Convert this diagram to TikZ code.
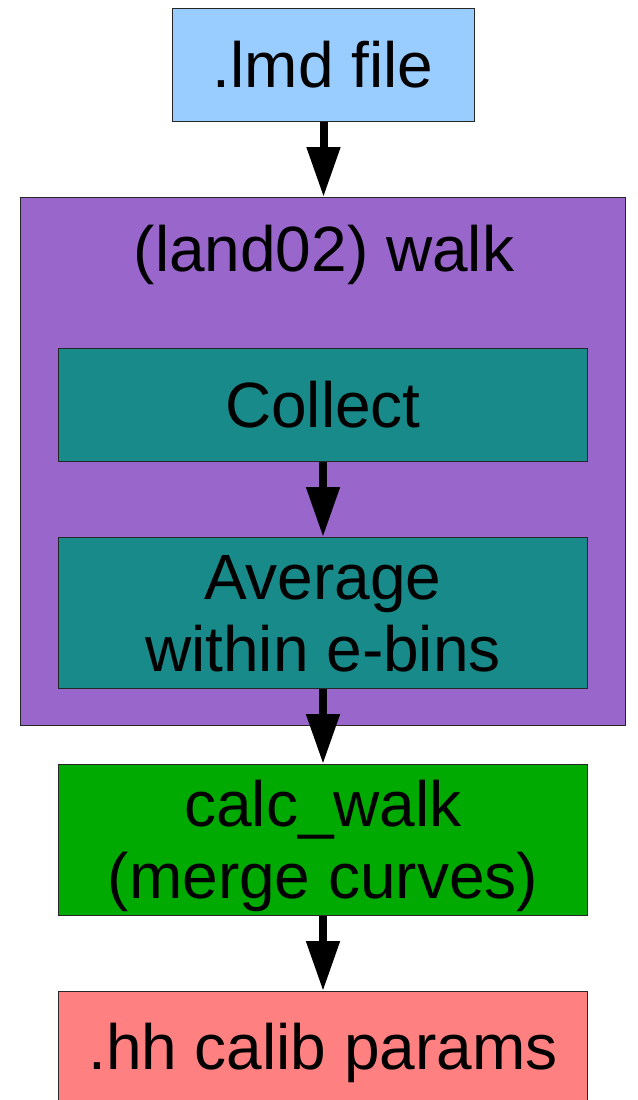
\documentclass[tikz,border=0pt]{standalone}
\usepackage{fontspec}
\setmainfont{Liberation Sans}
\usetikzlibrary{arrows.meta}
\definecolor{fileblue}{HTML}{99CCFF}
\definecolor{walkpurple}{HTML}{9966CC}
\definecolor{stepteal}{HTML}{198A8A}
\definecolor{calcgreen}{HTML}{00AA00}
\definecolor{outsalmon}{HTML}{FF8080}
\begin{document}
\begin{tikzpicture}[x=1pt,y=1pt,
  box/.style={draw=black!85, line width=1pt, inner sep=0pt, anchor=north west},
  txt/.style={anchor=base, inner sep=0pt, font=\fontsize{64}{68}\selectfont},
  flow/.style={line width=8pt, -{Triangle[width=32pt,length=50pt]}}]
\useasboundingbox (0,0) rectangle (637,-1100);
\clip (0,0) rectangle (637,-1100);

% boxes
\node[box, fill=fileblue, minimum width=302pt, minimum height=113pt] (lmd) at (172,-8) {};
\node[box, fill=walkpurple, minimum width=605pt, minimum height=528pt] (walk) at (20,-197) {};
\node[box, fill=stepteal, minimum width=529pt, minimum height=113pt] (collect) at (58,-348) {};
\node[box, fill=stepteal, minimum width=529pt, minimum height=151pt] (avg) at (58,-537) {};
\node[box, fill=calcgreen, minimum width=529pt, minimum height=151pt] (calc) at (58,-764) {};
\node[box, fill=outsalmon, minimum width=529pt, minimum height=160pt] (hh) at (58,-991) {};

% labels
\node[txt] (tlmd) at (323,-87) {.lmd file};
\node[txt] (twalk) at (324,-271) {(land02) walk};
\node[txt] (tcollect) at (323,-427) {Collect};
\node[txt] (tavg1) at (323,-599) {Average};
\node[txt] (tavg2) at (323,-671) {within e-bins};
\node[txt] (tcalc1) at (323,-826) {calc\_walk};
\node[txt] (tcalc2) at (323,-898) {(merge curves)};
\node[txt] (thh) at (323,-1069) {.hh calib params};

% connectors
\draw[flow] (lmd.south) -- (walk.north -| lmd.south);
\draw[flow] (collect.south) -- (avg.north);
\draw[flow] (avg.south) -- (calc.north);
\draw[flow] (calc.south) -- (hh.north);
\end{tikzpicture}
\end{document}
